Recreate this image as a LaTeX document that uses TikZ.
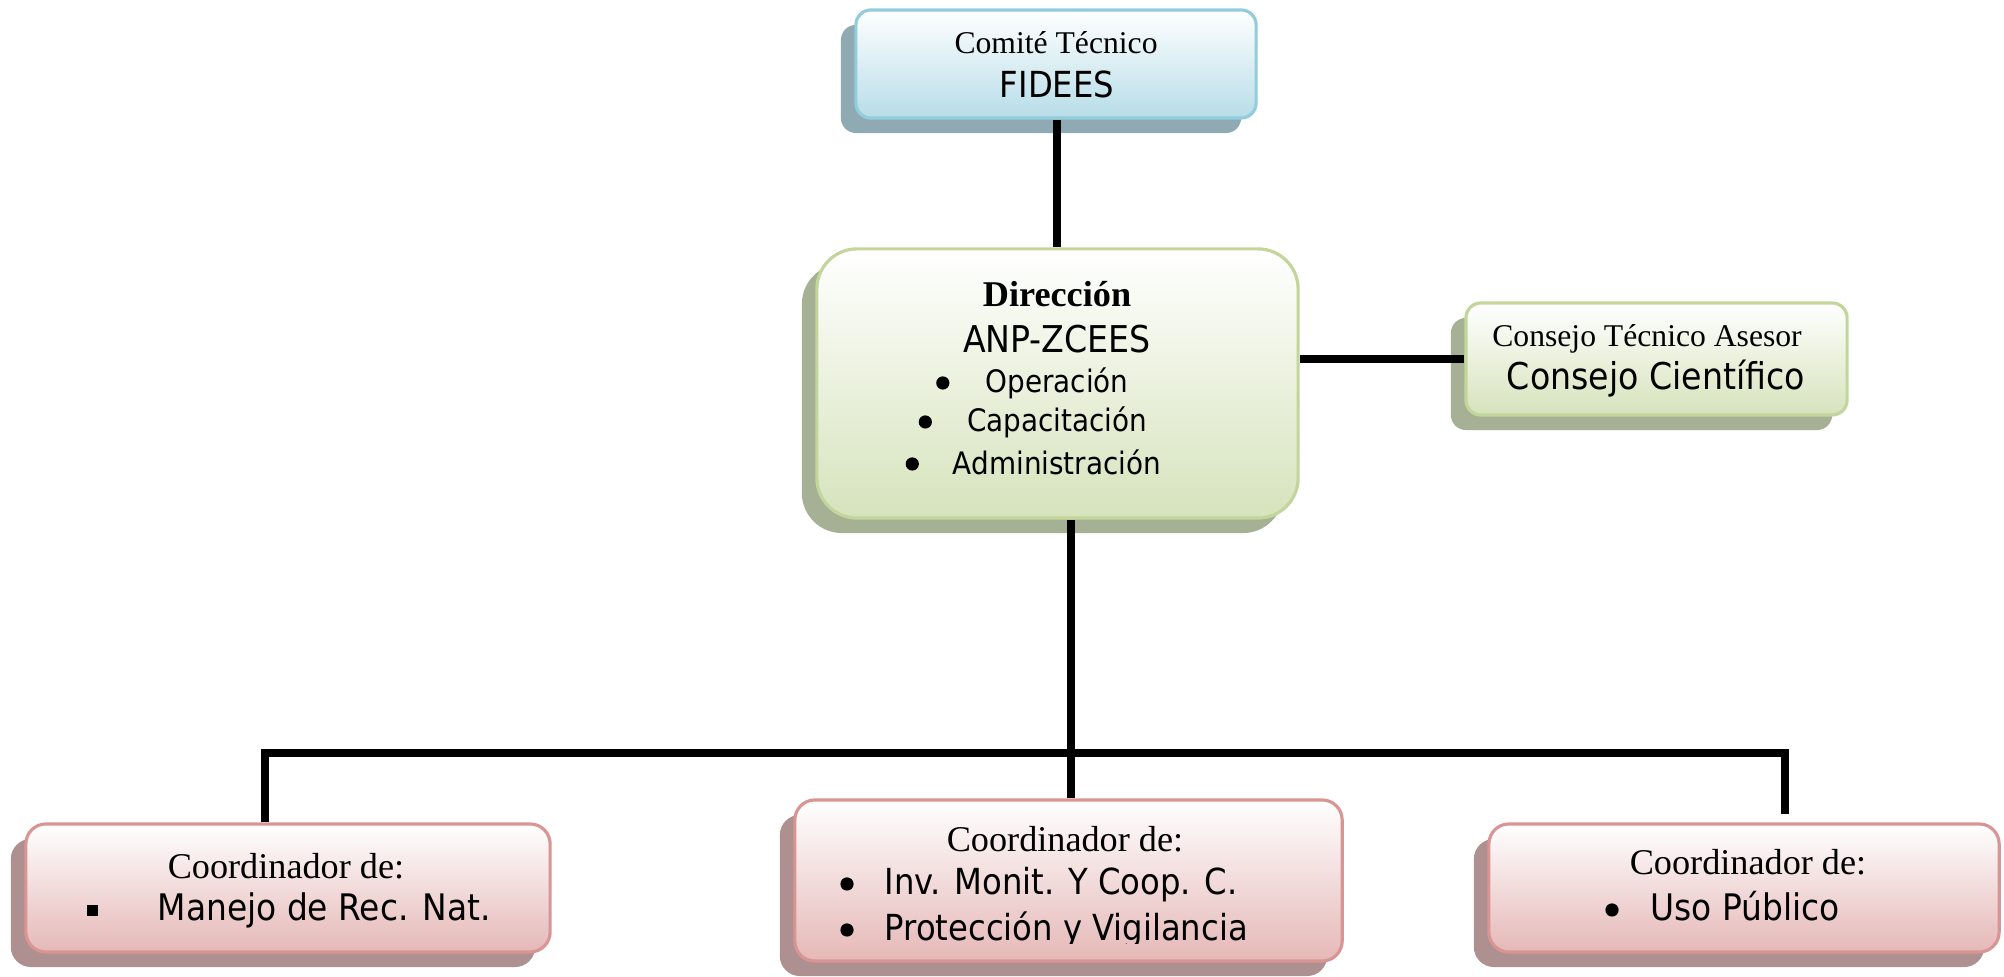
\documentclass[tikz,border=0pt]{standalone}
\usepackage{fontspec}
\setmainfont{Liberation Serif}
\newfontfamily\tah{DejaVu Sans Condensed}
\usetikzlibrary{shadows}
\definecolor{bluebd}{HTML}{92CDDC}
\definecolor{bluebt}{HTML}{B7DDE8}
\definecolor{blueshd}{HTML}{8FAAB2}
\definecolor{greenbd}{HTML}{C2D69B}
\definecolor{greenbt}{HTML}{D6E3BC}
\definecolor{greenshd}{HTML}{A6B094}
\definecolor{redbd}{HTML}{D99594}
\definecolor{redbt}{HTML}{E5B8B7}
\definecolor{redshd}{HTML}{AE9091}
\begin{document}
\begin{tikzpicture}[x=0.01cm,y=0.01cm,
  box/.style={inner sep=0pt, line width=0.9pt, top color=white},
  bluebox/.style={box, draw=bluebd, bottom color=bluebt, rounded corners=0.15cm,
    drop shadow={shadow xshift=-0.15cm, shadow yshift=-0.15cm, opacity=1, fill=blueshd}},
  greenbox/.style={box, draw=greenbd, bottom color=greenbt,
    drop shadow={shadow xshift=-0.15cm, shadow yshift=-0.15cm, opacity=1, fill=greenshd}},
  redbox/.style={box, draw=redbd, bottom color=redbt, rounded corners=0.2cm,
    drop shadow={shadow xshift=-0.15cm, shadow yshift=-0.15cm, opacity=1, fill=redshd}},
  conn/.style={line width=2.5pt, black, line join=miter},
  lab/.style={anchor=base, inner sep=0pt},
  labw/.style={anchor=base west, inner sep=0pt},
  serif9/.style={font=\fontsize{9}{10}\selectfont},
  serifc/.style={font=\fontsize{10.3}{11}\selectfont},
  sansbig/.style={font=\tah\fontsize{10.4}{12}\selectfont},
  sanssm/.style={font=\tah\fontsize{8.8}{10}\selectfont},
]
\useasboundingbox (0,0) rectangle (2004,977);

% boxes
\node[bluebox, minimum width=4.00cm, minimum height=1.08cm] (fid) at (1056,913) {};
\node[greenbox, rounded corners=0.4cm, minimum width=4.81cm, minimum height=2.69cm] (dir) at (1057.5,593.5) {};
\node[greenbox, rounded corners=0.15cm, minimum width=3.81cm, minimum height=1.12cm] (cons) at (1656.5,618) {};
\node[redbox, minimum width=5.24cm, minimum height=1.28cm] (left) at (288,89) {};
\node[redbox, minimum width=5.47cm, minimum height=1.61cm] (mid) at (1068.5,96.5) {};
\node[redbox, minimum width=5.10cm, minimum height=1.28cm] (right) at (1744,89) {};

% connectors
\coordinate (jm) at (1071,224);
\coordinate (hl) at (265,224);
\coordinate (hr) at (1785,224);
\coordinate (rend) at (1785,163);
\draw[conn] (fid.south -| 1057,0) -- (dir.north -| 1057,0);
\draw[conn] (dir.east |- cons.west) -- (cons.west);
\draw[conn] (dir.south -| jm) -- (jm) -- (mid.north -| jm);
\draw[conn] (hl |- left.north) -- (hl) -- (hr) -- (rend);

% texts top
\node[lab, serif9] (t1) at (1056,923) {Comité Técnico};
\node[lab, font=\tah\fontsize{10.2}{12}\selectfont] (t2) at (1057,879) {FIDEES};

% direccion
\node[lab, font=\bfseries\fontsize{10.3}{12}\selectfont] (d1) at (1057,670) {Dirección};
\node[lab, font=\tah\fontsize{10.5}{12}\selectfont] (d2) at (1057,624) {ANP-ZCEES};
\node[lab, sanssm] (d3) at (1057,584) {Operación};
\node[lab, sanssm] (d4) at (1057,545) {Capacitación};
\node[lab, sanssm] (d5) at (1057,502) {Administración};
\fill ([shift={(-42,10)}]d3.base west) circle (0.066cm);
\fill ([shift={(-41,10)}]d4.base west) circle (0.066cm);
\fill ([shift={(-40,11)}]d5.base west) circle (0.066cm);

% consejo
\node[lab, serif9] (c1) at (1647,630) {Consejo Técnico Asesor};
\node[lab, font=\tah\fontsize{10.5}{12}\selectfont] (c2) at (1656,587) {Consejo Científico};

% left coordinator
\node[lab, serifc] (l1) at (286,98) {Coordinador de:};
\node[labw, sansbig] (l2) at (157,56) {Manejo de Rec. Nat.};
\fill ([shift={(-70,5)}]l2.base west) rectangle ++(11,11);

% middle coordinator
\node[lab, serifc] (m1) at (1065,125) {Coordinador de:};
\node[labw, font=\tah\fontsize{10.2}{12}\selectfont] (m2) at (884,82) {Inv. Monit. Y Coop. C.};
\begin{scope}
\clip (800,33) rectangle (1340,80);
\node[labw, font=\tah\fontsize{10.2}{12}\selectfont] (m3) at (884,36) {Protección y Vigilancia};
\end{scope}
\fill ([shift={(-37,11)}]m2.base west) circle (0.066cm);
\fill ([shift={(-37,11)}]m3.base west) circle (0.066cm);

% right coordinator
\node[lab, serifc] (r1) at (1748,102) {Coordinador de:};
\node[labw, sansbig] (r2) at (1650,56) {Uso Público};
\fill ([shift={(-38,11)}]r2.base west) circle (0.066cm);
\end{tikzpicture}
\end{document}
